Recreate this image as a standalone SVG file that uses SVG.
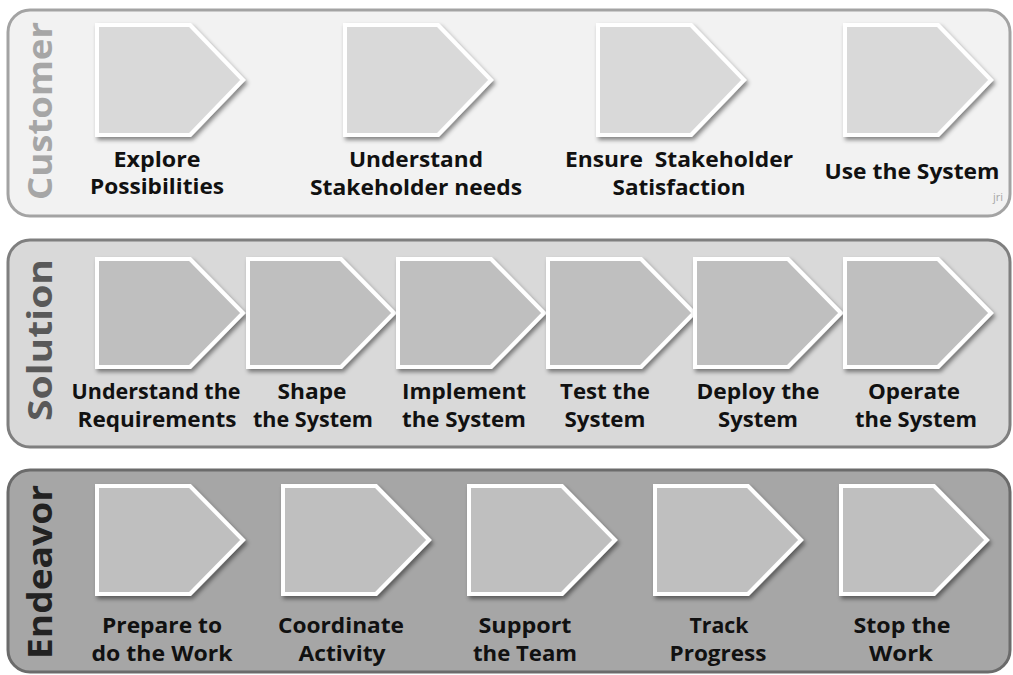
<svg xmlns="http://www.w3.org/2000/svg" xmlns:xlink="http://www.w3.org/1999/xlink" width="1013" height="675" viewBox="0 0 1013 675">
<style>
.lbl{font-family:"Open Sans","Liberation Sans",sans-serif;font-weight:bold;font-size:22px;fill:#111;text-anchor:middle}
.side{font-family:"Open Sans","Liberation Sans",sans-serif;font-weight:bold;font-size:34px;text-anchor:middle}
.pc{fill:#d9d9d9;stroke:#fff;stroke-width:4;filter:url(#sh)}
.ps{fill:#bfbfbf;stroke:#fff;stroke-width:4;filter:url(#sh)}
</style>
<defs>
<filter id="sh" x="-10%" y="-10%" width="130%" height="130%">
<feDropShadow dx="2" dy="3" stdDeviation="2" flood-color="#000" flood-opacity="0.45"/>
</filter>
<path id="p110" d="M0,0 H93 L146,55 L93,110 H0 Z"/>
<path id="p108" d="M0,0 H93 L146,54 L93,108 H0 Z"/>
</defs>
<rect width="1013" height="675" fill="#fff"/>
<!-- Lanes -->
<g id="lane-customer">
<rect x="8" y="10" width="1002" height="206" rx="22" fill="#f2f2f2" stroke="#a3a3a3" stroke-width="3"/>
<text class="side" fill="#a6a6a6" transform="translate(52,111) rotate(-90)" textLength="178" lengthAdjust="spacingAndGlyphs">Customer</text>
<text x="1003" y="201" font-family="Open Sans, Liberation Sans, sans-serif" font-size="11" fill="#a6a6a6" text-anchor="end">jri</text>
</g>
<g id="lane-solution">
<rect x="8" y="240" width="1002" height="207" rx="22" fill="#d9d9d9" stroke="#7f7f7f" stroke-width="3"/>
<text class="side" fill="#595959" transform="translate(52,340) rotate(-90)" textLength="162" lengthAdjust="spacingAndGlyphs">Solution</text>
</g>
<g id="lane-endeavor">
<rect x="8" y="470" width="1002" height="202" rx="22" fill="#a6a6a6" stroke="#6b6b6b" stroke-width="3"/>
<text class="side" fill="#222" transform="translate(52,572) rotate(-90)" textLength="174" lengthAdjust="spacingAndGlyphs">Endeavor</text>
</g>
<!-- Customer nodes -->
<g id="explore-possibilities">
<use xlink:href="#p110" href="#p110" class="pc" x="97" y="25"/>
<text class="lbl" x="157" y="167" textLength="87" lengthAdjust="spacingAndGlyphs">Explore</text>
<text class="lbl" x="157" y="194" textLength="134" lengthAdjust="spacingAndGlyphs">Possibilities</text>
</g>
<g id="understand-stakeholder-needs">
<use xlink:href="#p110" href="#p110" class="pc" x="345" y="25"/>
<text class="lbl" x="416" y="167" textLength="134" lengthAdjust="spacingAndGlyphs">Understand</text>
<text class="lbl" x="416" y="195" textLength="212" lengthAdjust="spacingAndGlyphs">Stakeholder needs</text>
</g>
<g id="ensure-stakeholder-satisfaction">
<use xlink:href="#p110" href="#p110" class="pc" x="598" y="25"/>
<text class="lbl" x="679" y="167" textLength="228" lengthAdjust="spacingAndGlyphs" xml:space="preserve">Ensure  Stakeholder</text>
<text class="lbl" x="679" y="195" textLength="133" lengthAdjust="spacingAndGlyphs">Satisfaction</text>
</g>
<g id="use-the-system">
<use xlink:href="#p110" href="#p110" class="pc" x="845" y="25"/>
<text class="lbl" x="912" y="179" textLength="175" lengthAdjust="spacingAndGlyphs">Use the System</text>
</g>
<!-- Solution nodes -->
<g id="understand-requirements">
<use xlink:href="#p108" href="#p108" class="ps" x="97" y="259"/>
<text class="lbl" x="156" y="399" textLength="169" lengthAdjust="spacingAndGlyphs">Understand the</text>
<text class="lbl" x="157" y="427" textLength="159" lengthAdjust="spacingAndGlyphs">Requirements</text>
</g>
<g id="shape-the-system">
<use xlink:href="#p108" href="#p108" class="ps" x="248" y="259"/>
<text class="lbl" x="312" y="399" textLength="69" lengthAdjust="spacingAndGlyphs">Shape</text>
<text class="lbl" x="313" y="427" textLength="120" lengthAdjust="spacingAndGlyphs">the System</text>
</g>
<g id="implement-the-system">
<use xlink:href="#p108" href="#p108" class="ps" x="398" y="259"/>
<text class="lbl" x="464" y="399" textLength="124" lengthAdjust="spacingAndGlyphs">Implement</text>
<text class="lbl" x="464" y="427" textLength="124" lengthAdjust="spacingAndGlyphs">the System</text>
</g>
<g id="test-the-system">
<use xlink:href="#p108" href="#p108" class="ps" x="548" y="259"/>
<text class="lbl" x="605" y="399" textLength="90" lengthAdjust="spacingAndGlyphs">Test the</text>
<text class="lbl" x="605" y="427" textLength="81" lengthAdjust="spacingAndGlyphs">System</text>
</g>
<g id="deploy-the-system">
<use xlink:href="#p108" href="#p108" class="ps" x="695" y="259"/>
<text class="lbl" x="758" y="399" textLength="123" lengthAdjust="spacingAndGlyphs">Deploy the</text>
<text class="lbl" x="758" y="427" textLength="80" lengthAdjust="spacingAndGlyphs">System</text>
</g>
<g id="operate-the-system">
<use xlink:href="#p108" href="#p108" class="ps" x="845" y="259"/>
<text class="lbl" x="914" y="399" textLength="92" lengthAdjust="spacingAndGlyphs">Operate</text>
<text class="lbl" x="916" y="427" textLength="122" lengthAdjust="spacingAndGlyphs">the System</text>
</g>
<!-- Endeavor nodes -->
<g id="prepare-to-do-the-work">
<use xlink:href="#p108" href="#p108" class="ps" x="97" y="486"/>
<text class="lbl" x="162" y="633" textLength="120" lengthAdjust="spacingAndGlyphs">Prepare to</text>
<text class="lbl" x="162" y="661" textLength="141" lengthAdjust="spacingAndGlyphs">do the Work</text>
</g>
<g id="coordinate-activity">
<use xlink:href="#p108" href="#p108" class="ps" x="283" y="486"/>
<text class="lbl" x="341" y="633" textLength="126" lengthAdjust="spacingAndGlyphs">Coordinate</text>
<text class="lbl" x="342" y="661" textLength="87" lengthAdjust="spacingAndGlyphs">Activity</text>
</g>
<g id="support-the-team">
<use xlink:href="#p108" href="#p108" class="ps" x="469" y="486"/>
<text class="lbl" x="525" y="633" textLength="93" lengthAdjust="spacingAndGlyphs">Support</text>
<text class="lbl" x="525" y="661" textLength="104" lengthAdjust="spacingAndGlyphs">the Team</text>
</g>
<g id="track-progress">
<use xlink:href="#p108" href="#p108" class="ps" x="655" y="486"/>
<text class="lbl" x="719" y="633" textLength="59" lengthAdjust="spacingAndGlyphs">Track</text>
<text class="lbl" x="718" y="661" textLength="97" lengthAdjust="spacingAndGlyphs">Progress</text>
</g>
<g id="stop-the-work">
<use xlink:href="#p108" href="#p108" class="ps" x="841" y="486"/>
<text class="lbl" x="902" y="633" textLength="97" lengthAdjust="spacingAndGlyphs">Stop the</text>
<text class="lbl" x="901" y="661" textLength="64" lengthAdjust="spacingAndGlyphs">Work</text>
</g>
<g id="connectors"/>
</svg>
